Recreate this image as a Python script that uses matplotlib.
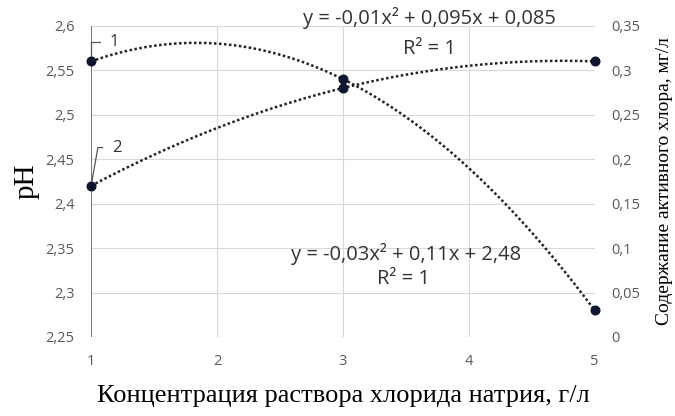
import numpy as np
import matplotlib.pyplot as plt

# концентрация NaCl, г/л
conc = [1, 3, 5]
# 1 - pH
ph = [2.56, 2.54, 2.28]
# 2 - содержание активного хлора, мг/л
chlorine = [0.17, 0.28, 0.31]

eq_ph = "y = -0,03x² + 0,11x + 2,48"
eq_cl = "y = -0,01x² + 0,095x + 0,085"
r2_text = "R² = 1"

left_ticks = [2.25, 2.3, 2.35, 2.4, 2.45, 2.5, 2.55, 2.6]
right_ticks = [0, 0.05, 0.1, 0.15, 0.2, 0.25, 0.3, 0.35]
x_ticks = [1, 2, 3, 4, 5]


def comma(v):
    return ('%g' % v).replace('.', ',')


tick_color = '#595959'
grid_color = '#d9d9d9'
text_color = '#333333'

fig = plt.figure(figsize=(6.75, 4.16), dpi=100)
ax = fig.add_axes([0.135, 0.19, 0.746, 0.748])
ax2 = ax.twinx()

# линии тренда (полином 2-й степени, как в Excel)
xs = np.linspace(1, 5, 200)
p1 = np.polyfit(conc, ph, 2)
p2 = np.polyfit(conc, chlorine, 2)
ax.plot(xs, np.polyval(p1, xs), linestyle=(0, (1, 1)), color='#222222', linewidth=1.8, zorder=3)
ax2.plot(xs, np.polyval(p2, xs), linestyle=(0, (1, 1)), color='#222222', linewidth=1.8, zorder=3)

ax.plot(conc, ph, 'o', color='#0d1530', markersize=6.2, zorder=4, clip_on=False)
ax2.plot(conc, chlorine, 'o', color='#0d1530', markersize=6.2, zorder=4, clip_on=False)

ax.set_xlim(1, 5)
ax.set_ylim(2.25, 2.6)
ax2.set_ylim(0, 0.35)
ax.set_xticks(x_ticks)
ax.set_yticks(left_ticks)
ax2.set_yticks(right_ticks)
ax.set_xticklabels([str(v) for v in x_ticks])
ax.set_yticklabels([comma(v) for v in left_ticks])
ax2.set_yticklabels([comma(v) for v in right_ticks])

for a in (ax, ax2):
    for s in a.spines.values():
        s.set_visible(False)
    a.tick_params(length=0, colors=tick_color, labelsize=10.5)
    for lab in a.get_xticklabels() + a.get_yticklabels():
        lab.set_fontfamily('Open Sans')
ax.tick_params(axis='y', pad=12)
ax.tick_params(axis='x', pad=12)
ax2.tick_params(axis='y', pad=12)

ax.grid(True, color=grid_color, linewidth=0.8)
ax.set_axisbelow(True)
ax.axvline(1, color='#6e6e6e', linewidth=1.3, zorder=2)

ax.set_ylabel('pH', fontfamily='Liberation Serif', fontsize=21, labelpad=4)
ax.set_xlabel('Концентрация раствора хлорида натрия, г/л', fontfamily='Liberation Serif',
              fontsize=19, labelpad=12)
ax2.set_ylabel('Содержание активного хлора, мг/л', fontfamily='Liberation Serif',
               fontsize=14, labelpad=11)

eq_style = dict(ha='center', va='center', fontsize=14.5, fontfamily='Open Sans',
                color=text_color, clip_on=False)
ax.text(3.50, 2.3435, eq_ph, **eq_style)
ax.text(3.48, 2.315, r2_text, **eq_style)
ax.text(3.69, 2.609, eq_cl, **eq_style)
ax.text(3.69, 2.574, r2_text, **eq_style)

# номера кривых
lead = dict(arrowstyle='-', color='#555555', linewidth=0.9, shrinkA=5, shrinkB=0,
            relpos=(0, 0.5))
ax.annotate('1', xy=(1.0, 2.56), xytext=(1.15, 2.582), fontsize=12, color=text_color,
            fontfamily='Open Sans', va='center',
            arrowprops=dict(connectionstyle='angle,angleA=0,angleB=90,rad=0', **lead))
ax.annotate('2', xy=(1.0, 2.42), xytext=(1.17, 2.463), fontsize=12, color=text_color,
            fontfamily='Open Sans', va='center',
            arrowprops=dict(connectionstyle='angle,angleA=0,angleB=80,rad=0', **lead))

fig.savefig('out.png', dpi=100)
